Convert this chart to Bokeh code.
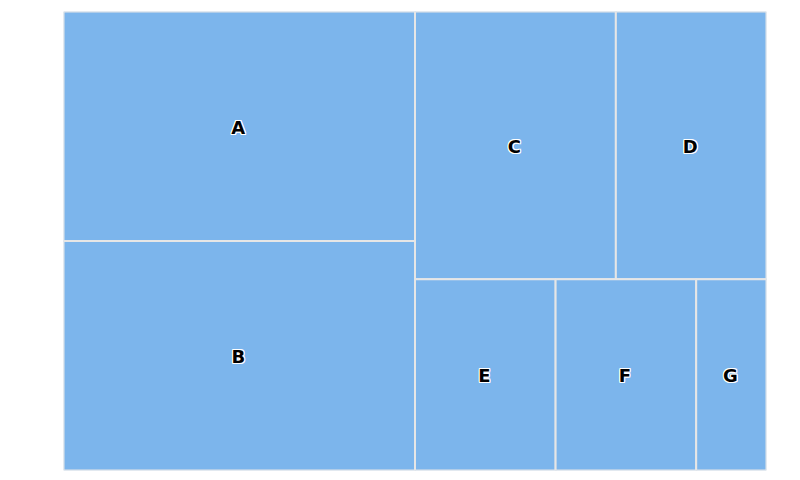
from bokeh.plotting import figure
from bokeh.models import Range1d, ColumnDataSource
from bokeh.core.properties import value
from bokeh.embed import file_html
from bokeh.resources import INLINE

# Data
names = ["A", "B", "C", "D", "E", "F", "G"]
values = [6, 6, 4, 3, 2, 2, 1]

# Layout area (data units)
W, H = 703.0, 459.0


def worst(row, w):
    s = sum(row)
    return max(max(w * w * r / (s * s), (s * s) / (w * w * r)) for r in row)


def squarify(vals, x, y, w, h):
    total = sum(vals)
    areas = [v * w * h / total for v in vals]
    rects = []
    i = 0
    while i < len(areas):
        short = min(w, h)
        row = [areas[i]]
        j = i + 1
        while j < len(areas) and worst(row + [areas[j]], short) <= worst(row, short):
            row.append(areas[j])
            j += 1
        s = sum(row)
        if w >= h:
            cw = s / h
            cy = y
            for a in row:
                rh = a / cw
                rects.append((x, cy, cw, rh))
                cy += rh
            x += cw
            w -= cw
        else:
            rh = s / w
            cx = x
            for a in row:
                rw = a / rh
                rects.append((cx, y, rw, rh))
                cx += rw
            y += rh
            h -= rh
        i = j
    return rects


order = sorted(range(len(values)), key=lambda k: -values[k])
rects = squarify([values[k] for k in order], 0.0, 0.0, W, H)
lab = [names[k] for k in order]

src = ColumnDataSource(dict(
    left=[r[0] for r in rects],
    right=[r[0] + r[2] for r in rects],
    top=[r[1] for r in rects],
    bottom=[r[1] + r[3] for r in rects],
    cx=[r[0] + r[2] / 2 for r in rects],
    cy=[r[1] + r[3] / 2 for r in rects],
    name=lab,
))

p = figure(width=792, height=472, output_backend="svg", toolbar_location=None,
           x_range=Range1d(0, W), y_range=Range1d(H, 0),
           min_border_left=63, min_border_top=11, min_border_right=26, min_border_bottom=2)
p.axis.visible = False
p.grid.visible = False
p.outline_line_color = None
p.background_fill_color = "white"

p.quad(left="left", right="right", top="top", bottom="bottom", source=src,
       fill_color="#7cb5ec", line_color="#e6e6e6", line_width=2)

for dx, dy in [(-1, 0), (1, 0), (0, -1), (0, 1), (-1, -1), (1, 1), (-1, 1), (1, -1)]:
    p.text(x="cx", y="cy", text="name", source=src, x_offset=dx - 1, y_offset=dy + 1,
           text_align="center", text_baseline="middle",
           text_font=value("DejaVu Sans"), text_font_style="bold",
           text_font_size="18px", text_color="white")
p.text(x="cx", y="cy", text="name", source=src, x_offset=-1, y_offset=1,
       text_align="center", text_baseline="middle",
       text_font=value("DejaVu Sans"), text_font_style="bold",
       text_font_size="18px", text_color="black")

open("out.html", "w").write(file_html(p, INLINE))
